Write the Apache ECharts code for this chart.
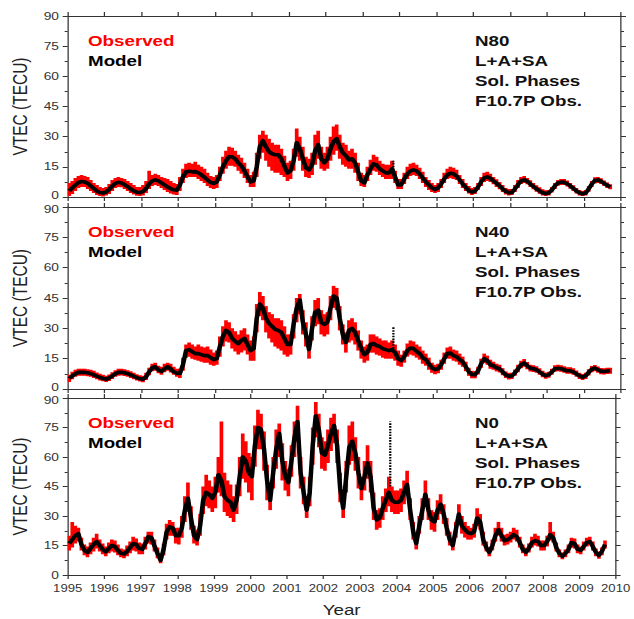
<!DOCTYPE html>
<html>
<head>
<meta charset="utf-8">
<script src="https://cdn.jsdelivr.net/npm/echarts@6/dist/echarts.min.js"></script>
<style>
html,body{margin:0;padding:0;background:#fff;overflow:hidden;}
#wrap{width:507px;height:619px;transform:scaleX(1.25049);transform-origin:0 0;}
</style>
</head>
<body>
<div id="wrap"></div>
<script>
// ---------------- data (monthly samples, Jan 1995 .. Sep 2009) ----------------
const panelNames = ['N80', 'N40', 'N0'];
const legendLabels = ['Observed', 'Model'];
const infoLines = ['L+A+SA', 'Sol. Phases', 'F10.7P Obs.'];
const yearTicks = [1995,1996,1997,1998,1999,2000,2001,2002,2003,2004,2005,2006,2007,2008,2009,2010];
const vtecTicks = [0, 15, 30, 45, 60, 75, 90];
const firstYear = 1995;

const n80Model = [
 3,4.5,6,7.2,7.7,7.5,6.8,5.5,4.2,3.0,2.2,2.0,
 2.5,3.8,5.5,6.8,7.3,7.0,6.2,5.2,4.0,3.0,2.4,2.2,
 2.8,4.2,6.5,8.0,8.5,8.0,7.0,6.0,5.0,4.2,3.6,3.4,
 6,10,12.5,12.8,12.5,12.6,12.0,11.0,9.8,8.5,7.2,6.8,
 7.5,11,15,18,20,20,19,17,15.5,13,10,7.5,
 8,15,25,28,25,22.5,21.5,21,21,19,15.5,12,
 13,18,27,24,19,14.5,13.5,16,23,26,19,17,
 19,24,27.5,29,25,22,20.5,18.5,19,17,12.5,8,
 7,11,14,16.5,16,14,13,12,12,14,10,6,
 6,9,11.5,13,13.5,13,11.5,9.5,7.5,6,4.5,3.8,
 4.5,6.5,9,11,11.8,11.5,10.5,8.5,6.5,4.8,3.2,2.5,
 3,5,7.5,9.5,10,9.3,8,6.8,5.5,4,2.8,2.1,
 2.3,4,6.2,8,8.5,7.8,6.5,5.2,4,3,2.1,1.7,
 2,3.5,5.5,7,7.4,7.3,6.6,5.5,4.3,3,2,1.6,
 2,4,6.5,8.2,8.5,7.8,6.8,5.8,5];
const n80ObsHi = [
 7,8,9.5,10.5,11,10.5,10,8.5,7,6,5,4.5,
 5,6.5,8.5,9.5,10,9.5,9,8,7,6,5,5,
 6,8,13,11,11.5,11,10,9.5,9,8,7,6.5,
 10,14,16.5,17,16.5,17.5,16,15,14,12,10.5,10,
 11,15,20,23,25,24.5,23,21,19.5,17,14,11,
 12.5,22,31,33,31,29,27,26,26,24,20.5,17,
 18,24,34,30,25,20,19,22,31,33,25,22,
 25,30,35,36,31,27,26,23,24,22,17,12,
 11,15,18.5,21,20,18,16.5,16,16,18,13,9,
 9,12,15,16.5,17,16,14.5,12.5,10,8.5,7,6,
 7,9,12,14,15,14.5,13.5,11,9,7,5.5,4.5,
 5,7,10,12,12.5,11.5,10,8.8,7.5,6,4.5,4,
 4,6,8.5,10,10.5,9.5,8.3,7,5.8,4.8,3.8,3.3,
 3.5,5,7,8.5,9,9,8.2,7,5.8,4.5,3.5,3,
 3.5,5.5,8,9.8,10,9.3,8.2,7.2,6.4];
const n80ObsLo = [
 0.5,1.5,3,4.5,5,5,4,3,2,1,0.5,0.3,
 0.8,1.5,3,4.5,5,4.8,4,3,2,1.2,0.6,0.5,
 0.8,2,4,5.5,6,5.5,4.5,3.5,2.5,1.8,1.2,1,
 3,7,9.5,10,10,10,9,8,7,5.5,4.5,4,
 4.5,8,11.5,14,15.5,15.5,15,13,11.5,9.5,7,5,
 5,10,19,22,18,15,13,12,12,11,10,8,
 9,13,20,18,13,10,9.5,11,16,19,14,13,
 14,18,21,23,19,16,15,14,14,12,8,5.5,
 5,8,11,13,12.5,11,10,9,9,9,7,4,
 4,6.5,9,10.5,11,10.5,9,7,5,3.5,2.5,2,
 2.5,4.5,7,9,9.5,9,8.5,6.5,4.5,3,1.8,1,
 1.5,3.5,5.5,7.5,8,7.5,6.3,5,3.8,2.5,1.3,0.8,
 1,2.5,4.5,6.5,7,6.3,5,3.8,2.6,1.6,0.8,0.5,
 0.8,2.2,4,5.6,6,6,5.2,4.1,3,1.8,0.8,0.5,
 0.8,2.6,5,6.7,7,6.5,5.5,4.5,3.8];

const n40Model = [
 5.2,6.5,7.5,8.2,8.3,8.2,8.0,7.6,7.0,6.3,5.7,5.2,
 4.9,5.5,6.5,7.5,8.2,8.3,8.0,7.6,7.0,6.3,5.6,5.1,
 4.8,6,8.5,10.5,11,9.5,8.7,10,11,10,8.5,7.8,
 7.7,12,19,19.5,18.5,17.5,17.5,17,16.5,16.5,15.5,14.5,
 15,21,26,29,28,25,23.5,22.5,24,25,22,19,
 20,35,42,40,35,32.5,31,29.5,29,28,25,22,
 22,32,40,44,33,27,19.5,30,38,39,33,32,
 33,40,46,45,35,27,23,29,30,28,24,20,
 17,18,22,22.5,21.5,21,20,19.5,19,19.5,18,15,
 14,16,19,20.3,20,18.6,17.5,15.5,14.5,12.5,10.5,9.6,
 10,12,15,17.5,17.8,16.5,16,14.5,13.5,11,8.5,7.2,
 7,9,12.5,15,14,12,11.5,10.5,10,8.5,7,6.3,
 6.5,8,10,12,12.9,11.5,10.3,10,9.5,8.5,7.3,6.6,
 7,8.5,10,10.3,10,9.5,9,9,8.5,7.5,6.5,5.9,
 6.5,8.2,9.8,10.3,9.5,8.8,8.7,8.9,9];
const n40ObsHi = [
 7,8.5,9.5,10,10,10,9.8,9.5,9,8.2,7.5,7,
 6.5,7.2,8.3,9.3,10,10,9.8,9.3,8.8,8,7.3,6.8,
 6.5,8,10.5,12.5,13,11.5,11,12.5,13,12.5,11,10,
 10,15.5,22,23,22,21,22,21,20.5,21,19.5,18,
 19,26,31,34,33,30,28.5,27,29,30,27,24,
 26,42,48,46,41,38,37,35,35,34,31,27,
 27,37,45,47,39,33,26,36,44,45,39,37,
 38,46,51,50,41,32,28,34,35,33,29,24,
 21,22,27,27,26,25,24,24,23,24,22,19,
 17,19,22.5,24,23.5,22,21,19,17.5,15.5,13,12,
 12.5,14.5,18,20.5,21,19.5,19,17.5,16,13.5,10.5,9,
 8.8,11,15,17.5,16.5,14.5,13.5,12.5,12,10.3,8.7,8,
 8,9.7,12,14,14.8,13.3,12,11.7,11.2,10.2,9,8.2,
 8.5,10,11.7,12,11.7,11.2,10.7,10.7,10.2,9.1,8,7.4,
 8,9.8,11.4,11.9,11.1,10.4,10.3,10.5,10.5];
const n40ObsLo = [
 3.5,4.8,6,6.5,6.6,6.5,6.3,6,5.4,4.8,4.2,3.8,
 3.5,4,5,6,6.6,6.7,6.4,6,5.4,4.8,4.2,3.7,
 3.3,4.5,6.8,8.8,9,7.8,7,8.3,9,8.2,7,6,
 5.5,9,15.5,16,15,14.5,14,13.5,13,13,12,11.5,
 12,16,21,23.5,23,20,18.5,17,18,19,17,14,
 14,28,36,34,28,25,23,21,20,19,17,16,
 17,25,33,37,27,21,15,24,31,32,27,26,
 27,34,40,39,29,22,18,23,24,22,19,15,
 13,14,18,18,17,16.5,15.5,15,15,15,14,11.5,
 11,13,16,17,16.5,15.5,14.5,12.5,11.5,9.5,8,7.3,
 7.8,9.5,12.5,15,15,14,13.5,12,11,8.8,6.5,5.3,
 5.3,7.2,10.5,12.8,12,10,9.5,8.7,8.2,6.8,5.4,4.7,
 5,6.5,8.3,10.2,11,9.8,8.7,8.4,8,7,5.8,5.1,
 5.6,7,8.5,8.8,8.5,8,7.5,7.5,7,6,5,4.5,
 5,6.7,8.3,8.8,8,7.3,7.2,7.4,7.6];

const n0Model = [
 16,18,20,21,15.6,12.5,11.5,13.5,15.5,17,15,13,
 11.8,13.5,15,14.5,12.5,11,10.7,12,14,16,15.5,13.5,
 13,16,19.5,19,14.8,11,7.5,13,22,24.5,24,20,
 20,24,33,39,29,20,18,25,38,42,41,39,
 42,51,48,40,38,37,33,38,50,60,58,52,
 50,66,75,74,64,48,38,52,64,72,58,50,
 47,58,70,78,52,42,33,42,66,81,74,62,
 61,66,72,76,66,44,34,50,65,68,62,52,
 44,50,57,50,34,28,29,34,38,42,38,37,
 37,38,42,46,33,22,16,25,33,41,33,28,
 27,33,36,31,24,18,15,23,31,25,23,21.5,
 21,22,29,27,18,14,11.5,15,20,23,20,17.5,
 18,19,20.5,19.5,16.5,13,11.5,13.5,16.5,17.5,17,15,
 15,17,20.5,19,14,11,9.6,11,13,16.5,16,13,
 12.5,14.5,16.5,17,14.5,11.5,10,12,15.5];
const n0ObsHi = [
 20,27,25,24,19,15.5,14.5,16.5,19,21,18,16,
 14.5,16.5,18,17.5,15.5,13.5,13,15,17,19.5,18.5,16.5,
 16,19.5,22,22,18,14,10.5,16,26,28,27,24,
 24,30,40,47,35,25,23,31,45,51,48,45,
 50,60,78,52,48,46,40,46,60,72,68,62,
 60,76,84,82,73,56,46,60,74,77,67,58,
 54,66,78,86,60,50,40,50,75,88,82,70,
 68,74,80,82,74,52,40,58,76,78,70,60,
 50,58,66,58,42,33,34,40,44,50,45,43,
 43,44,48,53,39,27,20,30,39,48,39,33,
 32,38,41,36,29,22,18,27,36,30,27,25,
 24,26,34,31,22,17,14,18,24,27,24,20.5,
 21,22,24,23,19.5,15.5,14,16,19.5,21,20,17.5,
 17.5,20,27,22,16.5,13,11.5,13,15.5,19,18.5,15.5,
 14.5,17,19,19.5,17,13.5,12,14,17.5];
const n0ObsLo = [
 12.5,14,16,17,12.5,10,9,10.5,12,13.5,12,10.5,
 9.5,11,12,11.5,10,9,8.5,9.5,11,12.5,12,10.5,
 10.5,13,16,15.5,12,8.5,6,10,18,20,20,16,
 15.5,19,27,32,23,16,15,20,31,35,34,32,
 34,42,40,32,30,29,27,31,40,49,47,42,
 38,55,64,64,53,38,33,44,54,60,48,43,
 40,50,60,68,44,36,29,35,56,70,65,54,
 53,57,63,67,57,37,29,42,56,58,53,44,
 38,43,49,42,28,23,24,28,32,35,32,31,
 31,32,36,40,28,18,13,21,28,35,28,23,
 22,28,31,26,20,15,12.5,19,26,21,19,18,
 18,19,25,23,15,12,9.5,12.5,17,20,17,15,
 15.5,16.5,18,17,14,11,9.5,11.5,14,15,14.5,12.5,
 12.5,14.5,17.5,16.5,12,9,8,9,11,14,13.5,11,
 10.5,12.5,14.5,15,12.5,9.5,8.3,10,13.5];

// short model excursion (vertical streak) near late Oct 2003
const spikeYear = 2003.83;
const spikeBase = [12, 20, 45];
const spikeTop = [18, 31, 78];

const models = [n80Model, n40Model, n0Model];
const obsHi = [n80ObsHi, n40ObsHi, n0ObsHi];
const obsLo = [n80ObsLo, n40ObsLo, n0ObsLo];

// ---------------- chart ----------------
const FONT = '"Liberation Sans", Arial, Helvetica, sans-serif';
const AX = '#333';
const panelTops = [16, 207, 398];
const panelHeights = [181, 182, 182];
const gridLeft = 53.6, gridRight = 10.4;
const legendX = 70.4, infoX = 379.9;

const months = n80Model.map((_, k) => firstYear + (k + 0.5) / 12);

function bandItem(params, api) {
  const t = api.value(0), lo = api.value(1), hi = api.value(2);
  const a = api.coord([t, hi]), b = api.coord([t, lo]);
  const w = api.size([1 / 12, 0])[0] + 0.5;
  return {type: 'rect', shape: {x: a[0] - w / 2, y: a[1], width: w, height: Math.max(b[1] - a[1], 1)},
    style: {fill: '#ff0000'}};
}
function spikeItem(params, api) {
  const t = api.value(0);
  const a = api.coord([t, api.value(1)]), b = api.coord([t, api.value(2)]);
  return {type: 'line', shape: {x1: a[0], y1: a[1], x2: b[0], y2: b[1]},
    style: {stroke: '#000', lineWidth: 1.8, lineDash: [1.6, 1.2]}};
}

const grid = [], xAxis = [], yAxis = [], series = [], graphic = [];
const axisLine = {show: true, onZero: false, lineStyle: {color: AX, width: 1}};
for (let i = 0; i < 3; i++) {
  grid.push({left: gridLeft, right: gridRight, top: panelTops[i], height: panelHeights[i]});
  ['bottom', 'top'].forEach(pos => {
    xAxis.push({
      type: 'value', gridIndex: i, position: pos,
      min: yearTicks[0], max: yearTicks[yearTicks.length - 1], interval: yearTicks[1] - yearTicks[0],
      axisLine, axisTick: {show: true, length: 4, lineStyle: {color: AX}},
      axisLabel: {show: pos === 'bottom' && i === 2, fontSize: 10.5, color: AX, margin: 8,
        fontFamily: FONT, formatter: v => String(v)},
      splitLine: {show: false},
      name: (pos === 'bottom' && i === 2) ? 'Year' : '',
      nameLocation: 'middle', nameGap: 28,
      nameTextStyle: {fontSize: 15, color: '#222', fontFamily: FONT}
    });
  });
  const vMin = vtecTicks[0], vMax = vtecTicks[vtecTicks.length - 1];
  ['left', 'right'].forEach(pos => {
    yAxis.push({
      type: 'value', gridIndex: i, position: pos,
      min: vMin, max: vMax, interval: vtecTicks[1] - vtecTicks[0],
      axisLine, axisTick: {show: true, length: 4, lineStyle: {color: AX}},
      minorTick: {show: true, splitNumber: 2, length: 2.4, lineStyle: {color: AX}},
      axisLabel: {show: pos === 'left', fontSize: 11, color: AX, margin: 7, fontFamily: FONT,
        formatter: v => (v === vMin && i < 2) ? '{lo|' + v + '}' : (v === vMax && i > 0) ? '{hi|' + v + '}' : String(v),
        rich: {lo: {fontSize: 11, color: AX, fontFamily: FONT, padding: [0, 0, 4, 0]},
               hi: {fontSize: 11, color: AX, fontFamily: FONT, padding: [4, 0, 0, 0]}}},
      splitLine: {show: false}, minorSplitLine: {show: false},
      name: pos === 'left' ? 'VTEC (TECU)' : '',
      nameLocation: 'middle', nameGap: 25,
      nameTextStyle: {fontSize: 15.5, color: '#222', fontFamily: FONT}
    });
  });

  series.push({
    type: 'custom', name: legendLabels[0], xAxisIndex: 2 * i, yAxisIndex: 2 * i,
    renderItem: bandItem, encode: {x: 0, y: [1, 2]}, clip: true, z: 1,
    data: months.map((t, k) => [t, obsLo[i][k], obsHi[i][k]])
  });
  series.push({
    type: 'line', name: legendLabels[1], xAxisIndex: 2 * i, yAxisIndex: 2 * i,
    showSymbol: false, symbol: 'none', z: 3,
    lineStyle: {color: '#000', width: 3.6, join: 'round'}, clip: true,
    data: months.map((t, k) => [t, models[i][k]])
  });
  series.push({
    type: 'custom', xAxisIndex: 2 * i, yAxisIndex: 2 * i, renderItem: spikeItem,
    encode: {x: 0, y: [1, 2]}, z: 4,
    data: [[spikeYear, spikeBase[i], spikeTop[i]]]
  });

  const top = panelTops[i];
  graphic.push({type: 'text', x: legendX, y: top + 25,
    style: {text: legendLabels[0], fill: '#ff0000', font: 'bold 15px ' + FONT, verticalAlign: 'middle'}});
  graphic.push({type: 'text', x: legendX, y: top + 45,
    style: {text: legendLabels[1], fill: '#000', font: 'bold 15px ' + FONT, verticalAlign: 'middle'}});
  [panelNames[i]].concat(infoLines).forEach((s, r) => {
    graphic.push({type: 'text', x: infoX, y: top + 25 + 20 * r,
      style: {text: s, fill: '#111', font: 'bold 15px ' + FONT, verticalAlign: 'middle'}});
  });
}

const chart = echarts.init(document.getElementById('wrap'), null, {renderer: 'svg', width: 507, height: 619});
chart.setOption({animation: false, backgroundColor: '#fff', grid, xAxis, yAxis, series, graphic});
</script>
</body>
</html>
